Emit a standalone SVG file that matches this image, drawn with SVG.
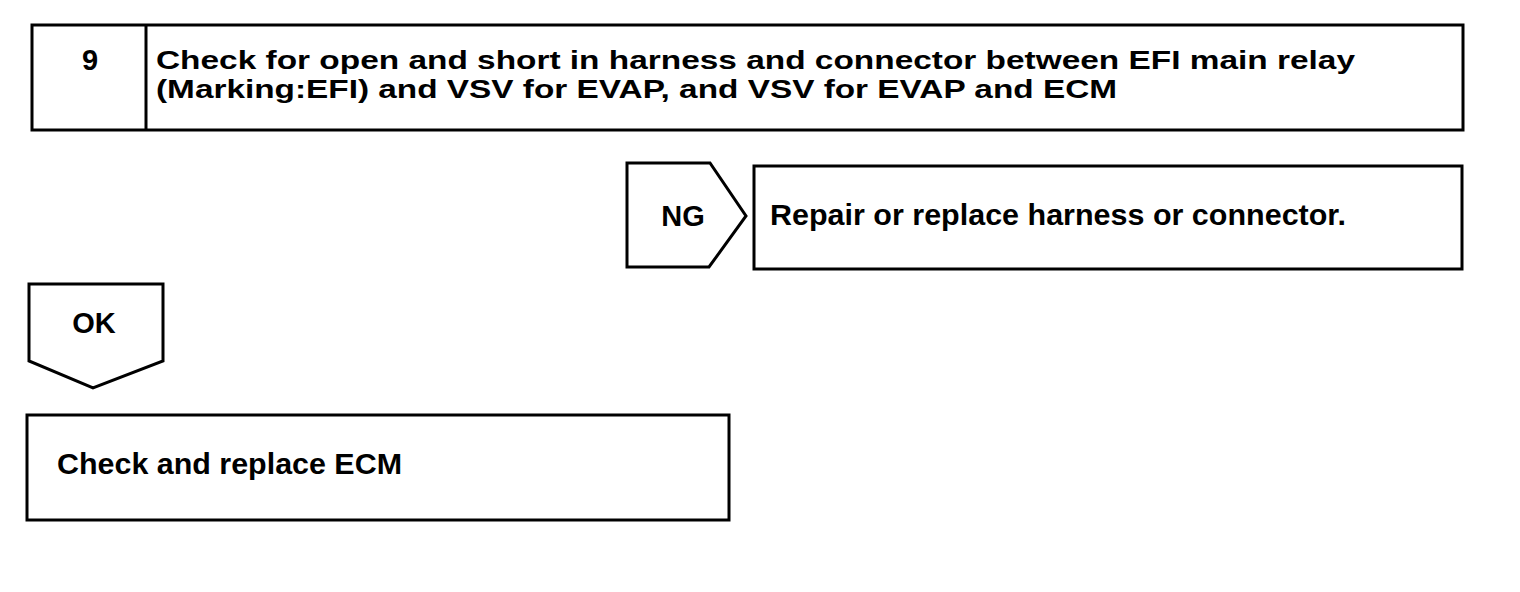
<svg xmlns="http://www.w3.org/2000/svg" width="1520" height="592" viewBox="0 0 1520 592">
<style>
.box{fill:#fff;stroke:#000;stroke-width:3;stroke-linejoin:miter}
.t{font-family:"Liberation Sans",Arial,Helvetica,sans-serif;font-weight:bold;font-size:29px;fill:#000}
.h{font-size:26px}
.c{text-anchor:middle}
</style>
<rect width="1520" height="592" fill="#fff"/>
<g id="step9">
<rect class="box" x="32" y="25" width="1431" height="105"/>
<line class="box" x1="146" y1="25" x2="146" y2="130"/>
<text class="t c" x="90" y="70">9</text>
<text class="t h" x="156" y="69" textLength="1199" lengthAdjust="spacingAndGlyphs">Check for open and short in harness and connector between EFI main relay</text>
<text class="t h" x="156" y="98" textLength="961" lengthAdjust="spacingAndGlyphs">(Marking:EFI) and VSV for EVAP, and VSV for EVAP and ECM</text>
</g>
<g id="connectors">
<g id="ng">
<polygon class="box" points="627,163 710,163 746,216 709,267 627,267"/>
<text class="t c" x="683" y="226">NG</text>
</g>
<g id="ok">
<polygon class="box" points="29,284 163,284 163,361 93,388 29,361"/>
<text class="t c" x="94" y="333">OK</text>
</g>
</g>
<g id="repair">
<rect class="box" x="754" y="166" width="708" height="103"/>
<text class="t" x="770" y="225" textLength="576" lengthAdjust="spacingAndGlyphs">Repair or replace harness or connector.</text>
</g>
<g id="replace-ecm">
<rect class="box" x="27" y="415" width="702" height="105"/>
<text class="t" x="57" y="474" textLength="345" lengthAdjust="spacingAndGlyphs">Check and replace ECM</text>
</g>
</svg>
